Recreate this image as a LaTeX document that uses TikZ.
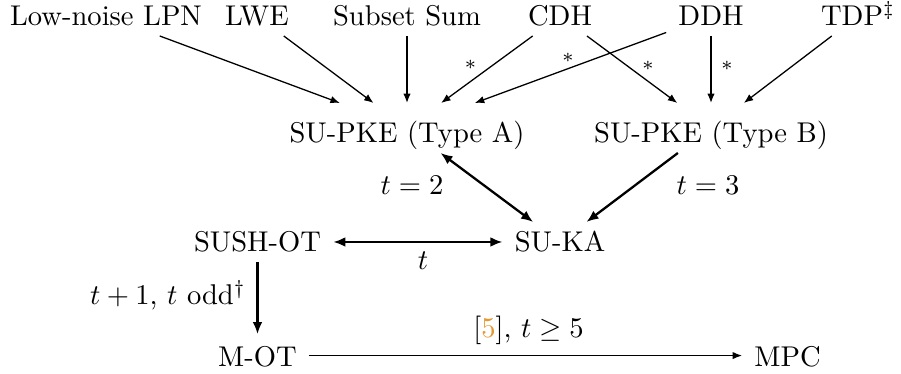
\documentclass[tikz,border=0pt]{standalone}
\usepackage{fontspec}
\usetikzlibrary{arrows.meta}
\definecolor{citeorange}{RGB}{228,152,48}
\begin{document}
\begin{tikzpicture}[x=0.35pt,y=-0.35pt,
  lbl/.style={anchor=base,inner xsep=4.3pt,inner ysep=3.5pt,outer sep=0pt,text depth=0pt},
  toprow/.style={lbl,text height=7pt},
  pkerow/.style={lbl,text height=10.5pt},
  midrow/.style={lbl,text height=7pt},
  lowrow/.style={lbl,text height=8pt},
  thinarr/.style={line width=0.45pt,-{Latex[length=3.3pt,width=2.6pt]}},
  thickarr/.style={line width=0.8pt,-{Latex[length=4.2pt,width=3.4pt]}},
  dblarr/.style={line width=0.8pt,{Latex[length=4.2pt,width=3.4pt]}-{Latex[length=4.2pt,width=3.4pt]}},
  starlbl/.style={font=\normalsize,inner sep=0pt}
]
\useasboundingbox (0,0) rectangle (901,374);
% top row
\node[toprow] (lpn) at (106,26) {Low-noise LPN};
\node[toprow] (lwe) at (257,26) {LWE};
\node[toprow] (ss)  at (407,26) {Subset Sum};
\node[toprow] (cdh) at (560,26) {CDH};
\node[toprow] (ddh) at (711,26) {DDH};
\node[toprow] (tdp) at (858,26) {TDP$^\ddagger$};
% second row
\node[pkerow] (pa) at (407,143) {SU-PKE (Type A)};
\node[pkerow] (pb) at (711,143) {SU-PKE (Type B)};
% third row
\node[midrow] (sush) at (257.5,252) {SUSH-OT};
\node[midrow] (ka)   at (560,252) {SU-KA};
% fourth row
\node[lowrow] (mot) at (257.5,367) {M-OT};
\node[lowrow] (mpc) at (787.5,367) {MPC};
% arrows into Type A
\draw[thinarr] (lpn) -- (pa);
\draw[thinarr] (lwe) -- (pa);
\draw[thinarr] (ss) -- (pa);
\draw[thinarr] (cdh) -- node[starlbl,pos=0.434,xshift=-7.9pt] (s1) {$\scriptstyle *$} (pa);
\draw[thinarr] (ddh) -- node[starlbl,pos=0.513,yshift=3.9pt] (s2) {$\scriptstyle *$} (pa);
% arrows into Type B
\draw[thinarr] (cdh) -- node[starlbl,pos=0.442,xshift=7.4pt] (s3) {$\scriptstyle *$} (pb);
\draw[thinarr] (ddh) -- node[starlbl,pos=0.442,xshift=5.6pt] (s4) {$\scriptstyle *$} (pb);
\draw[thinarr] (tdp) -- (pb);
% middle
\draw[dblarr] (pa) -- node[anchor=base,pos=0.605,xshift=-29.6pt,inner sep=0pt] (l2) {$t=2$} (ka);
\draw[thickarr] (pb) -- node[anchor=base,pos=0.605,xshift=29.9pt,inner sep=0pt] (l3) {$t=3$} (ka);
\draw[dblarr] (sush) -- node[anchor=base,pos=0.53,yshift=-9.8pt,inner sep=0pt] (lt) {$t$} (ka);
\draw[thickarr] (sush) -- node[anchor=base east,pos=0.59,xshift=-3.7pt,inner sep=0pt] (lodd) {$t+1$, $t$ odd$^\dagger$} (mot);
\draw[thinarr] (mot) -- node[anchor=base,pos=0.507,yshift=6.2pt,inner sep=0pt] (lmpc) {[\textcolor{citeorange}{5}], $t\geq 5$} (mpc);
\end{tikzpicture}
\end{document}
